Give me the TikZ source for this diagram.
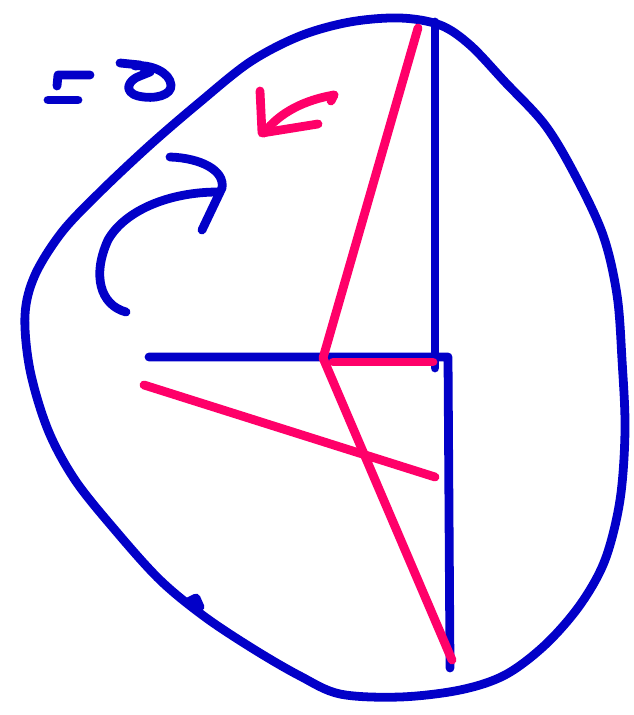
\documentclass[tikz,border=0pt]{standalone}
\usetikzlibrary{calc}
\definecolor{penblue}{RGB}{2,0,200}
\definecolor{penpink}{RGB}{255,0,105}

\begin{document}
\begin{tikzpicture}[
    x=0.02cm, y=-0.02cm,
    ink/.style       = {line width=5pt, line cap=round, line join=round},
    blueink/.style   = {ink, draw=penblue},
    pinkink/.style   = {ink, draw=penpink}
  ]

\useasboundingbox (0,0) rectangle (634,715);

% =========================================================
% Outline of the blob
% =========================================================
\draw[blueink] plot[smooth cycle, tension=0.55] coordinates {
  (400,18) (440,25) (470,45) (505,82) (545,125) (575,175) (603,235)
  (617,295) (622,360) (625,430) (620,500) (605,560) (580,605)
  (545,645) (505,675) (460,690) (400,697) (340,694) (300,676)
  (255,650) (205,617) (160,580) (115,530) (75,480) (48,430)
  (30,370) (25,315) (35,275) (62,232) (100,192) (150,145)
  (200,102) (250,62) (300,36) (350,22)};
\draw[blueink] (188,602) -- (196,598) -- (200,607);

% =========================================================
% Blue frame lines
% =========================================================
\coordinate (top)    at (435,22);
\coordinate (corner) at (435,368);
\coordinate (left)   at (149,357);
\coordinate (joint)  at (448,357);
\coordinate (bottom) at (450,668);
\draw[blueink] (top) -- (corner);
\draw[blueink] (left) -- (joint) -- (bottom);

% =========================================================
% Pink lines
% =========================================================
\coordinate (apex)  at (418,28);
\coordinate (kink)  at (323,358);
\coordinate (foot)  at (452,660);
\coordinate (hend)  at (433,362);
\coordinate (sA)    at (144,385);
\coordinate (sB)    at (435,477);
\draw[pinkink] (apex) -- (kink) -- (foot);
\draw[pinkink] (333,362) -- (hend);
\draw[pinkink] (sA) -- (sB);

% pink arrow (drawn by hand)
\draw[pinkink] (334,95) -- (331,101);
\draw[pinkink] (334,95) .. controls (305,100) and (280,112) .. (264,133);
\draw[pinkink] (260,91) -- (262,133) -- (318,124);

% =========================================================
% Blue curved arrow and mark at top left
% =========================================================
\draw[blueink] (126,312) .. controls (100,305) and (92,275) .. (108,240)
  .. controls (125,210) and (170,192) .. (218,192);
\draw[blueink] (170,157) .. controls (200,158) and (225,170) .. (222,188)
  -- (202,230);

\draw[blueink] (57,86) -- (58,75) -- (90,75);
\draw[blueink] (48,100) -- (78,100);
\draw[blueink] (120,63) -- (140,65) -- (150,72) -- (140,76)
  .. controls (128,80) and (123,92) .. (138,96)
  .. controls (155,100) and (172,95) .. (171,85)
  .. controls (170,72) and (150,64) .. (135,66);

\end{tikzpicture}
\end{document}
